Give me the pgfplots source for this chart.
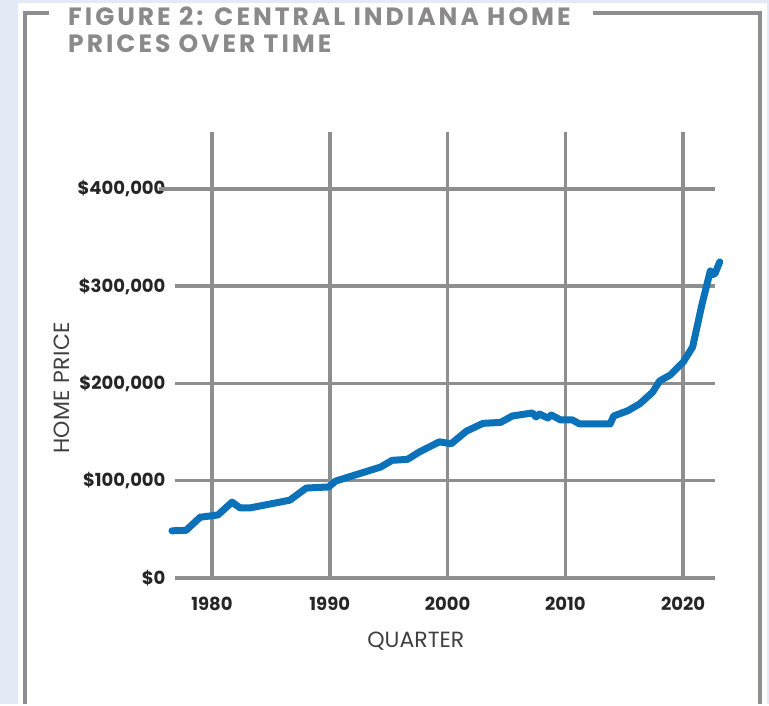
\documentclass[border=0pt]{standalone}
\usepackage{pgfplots}
\pgfplotsset{compat=1.18}
\usepackage{fontspec}
\setmainfont{Poppins}
\newfontfamily\titlefont{Poppins}[LetterSpace=12]
\newfontfamily\ylabfont{Poppins}[LetterSpace=2]
\definecolor{bgblue}{HTML}{E3EAF6}
\definecolor{gridgray}{HTML}{8E8E8E}
\definecolor{lineblue}{HTML}{0B72BA}
\definecolor{titlegray}{HTML}{8A8A8A}
\begin{document}
\begin{tikzpicture}
\fill[bgblue] (0pt,0pt) rectangle (769pt,704pt);
\fill[white] (18pt,0pt) rectangle (767pt,701pt);
\draw[gridgray, line width=4pt] (49pt,691pt) -- (25pt,691pt) -- (25pt,0pt);
\draw[gridgray, line width=4pt] (593pt,691pt) -- (760pt,691pt) -- (760pt,0pt);
\node[anchor=base west, inner sep=0pt, text=titlegray, font=\titlefont\bfseries\fontsize{25}{25}\selectfont] at (68pt,678pt) {FIGURE 2: CENTRAL INDIANA HOME};
\node[anchor=base west, inner sep=0pt, text=titlegray, font=\titlefont\bfseries\fontsize{25}{25}\selectfont] at (68pt,651pt) {PRICES OVER TIME};
\begin{axis}[
  at={(175pt,126pt)}, anchor=south west,
  scale only axis, width=540pt, height=446pt,
  xmin=1976.86, xmax=2022.7, ymin=0, ymax=458600,
  xtick={1980,1990,2000,2010,2020},
  xticklabels={1980,1990,2000,2010,2020},
  ytick={0,100000,200000,300000,400000},
  yticklabels={{\$0},{\$100,000},{\$200,000},{\$300,000},{\$400,000}},
  scaled y ticks=false,
  grid=major,
  major grid style={line width=3.5pt, color=gridgray},
  axis line style={draw=none},
  major tick length=0pt,
  tick label style={font=\bfseries\fontsize{18}{18}\selectfont, text=black!85},
  yticklabel style={xshift=-6pt},
  xticklabel style={yshift=-16pt},
  xlabel={QUARTER},
  ylabel={HOME PRICE},
  label style={font=\fontsize{22}{22}\selectfont, text=black!75},
  xlabel style={at={(axis description cs:0.446,0)}, anchor=center, yshift=-63pt},
  ylabel style={at={(axis description cs:-0.209,0.426)}, anchor=center, font=\ylabfont\fontsize{22}{22}\selectfont},
  clip=false,
]
\draw[gridgray, line width=3.5pt] (axis cs:1975.5,400000) -- (axis cs:1977,400000);
\addplot[lineblue, line width=7pt, line join=round, line cap=round] coordinates {
(1976.6,48500) (1977.8,49000) (1979.0,62500) (1980.5,64800) (1981.7,78000)
(1982.4,72000) (1983.2,72000) (1986.6,80000) (1988.0,92500) (1989.9,93600)
(1990.5,99700) (1994.3,114000) (1995.3,121000) (1996.6,122000) (1997.6,129600)
(1999.3,140000) (2000.3,138000) (2001.6,151000) (2003.0,159000) (2004.5,160000)
(2005.5,166600) (2007.2,169700) (2007.5,165600) (2007.8,168600) (2008.5,164500)
(2008.8,167600) (2009.6,162500) (2010.6,162500) (2011.2,158400) (2013.8,158400)
(2014.1,166600) (2015.3,172000) (2016.3,179000) (2017.4,191000) (2018.0,202600)
(2018.9,208700) (2020.0,222000) (2020.8,237500) (2021.6,281700) (2022.3,315700)
(2022.5,312000) (2022.7,313000) (2023.1,325000)
};
\end{axis}
\end{tikzpicture}
\end{document}
